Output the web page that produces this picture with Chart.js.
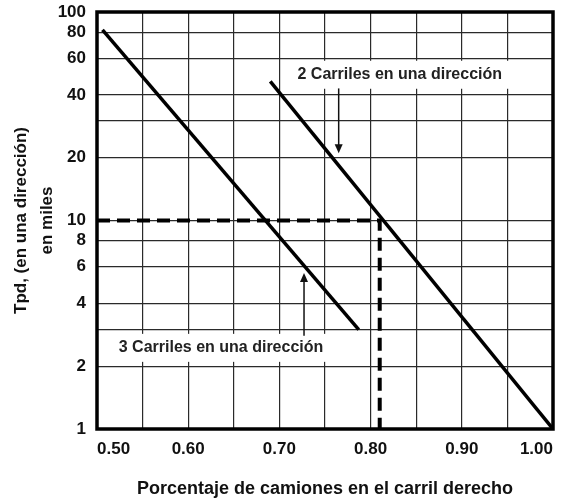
<!DOCTYPE html>
<html>
<head>
<meta charset="utf-8">
<script src="https://cdn.jsdelivr.net/npm/chart.js@4.4.1/dist/chart.umd.min.js"></script>
<style>
  html, body { margin: 0; padding: 0; background: #fff; }
  #wrap { width: 563px; height: 498px; }
</style>
</head>
<body>
<div id="wrap"><canvas id="chart"></canvas></div>
<script>
// Curves (x = share of trucks in right lane, y = ADT in thousands)
const twoLaneX = [0.69, 1.00];
const twoLaneY = [46.5, 1];
const threeLaneX = [0.506, 0.787];
const threeLaneY = [82, 3];

// Dashed example reading: 10 000 ADT -> 0.81
const guideX = [0.50, 0.81, 0.81];
const guideY = [10, 10, 1];

// Grid and tick labels
const xGrid = [0.50, 0.55, 0.60, 0.65, 0.70, 0.75, 0.80, 0.85, 0.90, 0.95, 1.00];
const xLabels = [0.50, 0.60, 0.70, 0.80, 0.90, 1.00];
const yGrid = [1, 2, 3, 4, 6, 8, 10, 20, 30, 40, 60, 80, 100];
const yLabels = [1, 2, 4, 6, 8, 10, 20, 40, 60, 80, 100];

// Callout labels and their arrows (data coordinates)
const noteText = ['2 Carriles en una dirección', '3 Carriles en una dirección'];
const noteX = [0.832, 0.636];
const noteY = [50, 2.45];
const arrowX = [0.765, 0.727];
const arrowFromY = [43, 2.8];
const arrowToY = [21, 5.6];

const FONT = '"Liberation Sans", Arial, sans-serif';

const toPoints = (xs, ys) => xs.map((x, i) => ({ x: x, y: ys[i] }));

// White boxes, labels and arrows drawn under the curves
const notesPlugin = {
  id: 'notes',
  beforeDatasetsDraw(chart) {
    const ctx = chart.ctx;
    const xs = chart.scales.x, ys = chart.scales.y;
    ctx.save();
    ctx.font = 'bold 16px ' + FONT;
    ctx.textAlign = 'center';
    ctx.textBaseline = 'middle';
    noteText.forEach((t, i) => {
      const cx = xs.getPixelForValue(noteX[i]);
      const cy = ys.getPixelForValue(noteY[i]);
      const w = ctx.measureText(t).width + 14;
      ctx.fillStyle = '#fff';
      ctx.fillRect(cx - w / 2, cy - 14, w, 28);
      ctx.fillStyle = '#222';
      ctx.fillText(t, cx, cy);
    });
    arrowX.forEach((ax, i) => {
      const px = xs.getPixelForValue(ax);
      const y0 = ys.getPixelForValue(arrowFromY[i]);
      const y1 = ys.getPixelForValue(arrowToY[i]);
      const dir = y1 > y0 ? 1 : -1;
      ctx.strokeStyle = '#111';
      ctx.lineWidth = 1.5;
      ctx.beginPath();
      ctx.moveTo(px, y0);
      ctx.lineTo(px, y1 - dir * 6);
      ctx.stroke();
      ctx.fillStyle = '#111';
      ctx.beginPath();
      ctx.moveTo(px, y1);
      ctx.lineTo(px - 4, y1 - dir * 9);
      ctx.lineTo(px + 4, y1 - dir * 9);
      ctx.closePath();
      ctx.fill();
    });
    ctx.restore();
  },
  afterDatasetsDraw(chart) {
    const { left, top, right, bottom } = chart.chartArea;
    const ctx = chart.ctx;
    ctx.save();
    ctx.strokeStyle = '#000';
    ctx.lineWidth = 3.5;
    ctx.strokeRect(left, top, right - left, bottom - top);
    ctx.restore();
  }
};

new Chart(document.getElementById('chart'), {
  type: 'scatter',
  data: {
    datasets: [
      {
        label: '2 Carriles',
        data: toPoints(twoLaneX, twoLaneY),
        showLine: true,
        borderColor: '#000',
        borderWidth: 3.5,
        pointRadius: 0
      },
      {
        label: '3 Carriles',
        data: toPoints(threeLaneX, threeLaneY),
        showLine: true,
        borderColor: '#000',
        borderWidth: 3.5,
        pointRadius: 0
      },
      {
        label: 'Ejemplo',
        data: toPoints(guideX, guideY),
        showLine: true,
        borderColor: '#000',
        borderWidth: 4,
        borderDash: [13, 7],
        pointRadius: 0
      }
    ]
  },
  options: {
    responsive: true,
    maintainAspectRatio: false,
    animation: false,
    layout: { padding: { left: 0, right: 10, top: 12, bottom: 0 } },
    plugins: {
      legend: { display: false },
      tooltip: { enabled: false }
    },
    scales: {
      x: {
        type: 'linear',
        min: 0.5,
        max: 1.0,
        afterBuildTicks: (scale) => { scale.ticks = xGrid.map(v => ({ value: v })); },
        afterFit: (scale) => { scale.height = 69; scale.paddingLeft = 0; scale.paddingRight = 0; },
        ticks: {
          autoSkip: false,
          maxRotation: 0,
          align: 'inner',
          padding: 10,
          color: '#111',
          font: { family: FONT, size: 17, weight: 'bold' },
          callback: (v) => xLabels.some(l => Math.abs(l - v) < 1e-6) ? v.toFixed(2) : ''
        },
        grid: { color: '#2a2a2a', lineWidth: 1.2, drawTicks: false },
        border: { display: false },
        title: {
          display: true,
          text: 'Porcentaje de camiones en el carril derecho',
          color: '#111',
          font: { family: FONT, size: 18, weight: 'bold', lineHeight: 1 },
          padding: { top: 0, bottom: 0 }
        }
      },
      y: {
        type: 'logarithmic',
        min: 1,
        max: 100,
        afterBuildTicks: (scale) => { scale.ticks = yGrid.map(v => ({ value: v })); },
        afterFit: (scale) => { scale.width = 97; scale.paddingTop = 0; scale.paddingBottom = 0; },
        ticks: {
          autoSkip: false,
          padding: 11,
          color: '#111',
          font: { family: FONT, size: 17, weight: 'bold' },
          callback: (v) => yLabels.includes(v) ? String(v) : ''
        },
        grid: { color: '#2a2a2a', lineWidth: 1.2, drawTicks: false },
        border: { display: false },
        title: {
          display: true,
          text: ['Tpd, (en una dirección)', 'en miles'],
          color: '#111',
          font: { family: FONT, size: 17, weight: 'bold', lineHeight: 1.5 },
          padding: { top: 9, bottom: 0 }
        }
      }
    }
  },
  plugins: [notesPlugin]
});
</script>
</body>
</html>
